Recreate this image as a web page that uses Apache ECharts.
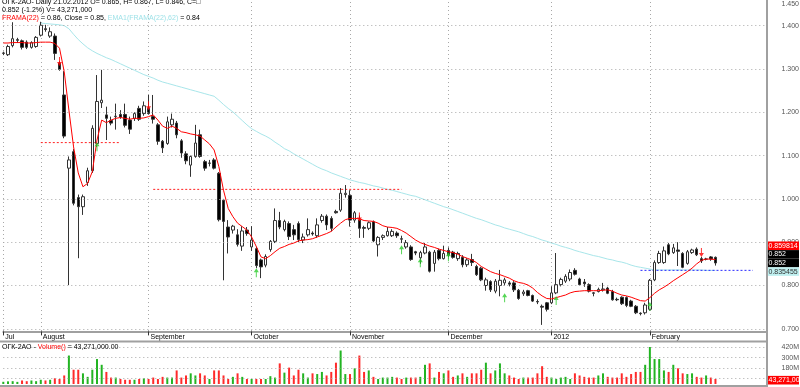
<!DOCTYPE html>
<html><head><meta charset="utf-8">
<script src="https://cdn.jsdelivr.net/npm/echarts@6/dist/echarts.min.js"></script>
<style>html,body{margin:0;padding:0;background:#fff}#c{width:800px;height:387px}</style>
</head><body><div id="c"></div>
<script>
// ---------- data ----------
const monthLabels = ['Jul','August','September','October','November','December','2012','February'];
const monthBarCounts = [8,23,22,21,21,22,21,15];
const padBars = 11;

const openP = [1.336,1.333,1.354,1.366,1.365,1.362,1.350,1.352,1.378,1.393,1.376,1.376,1.313,1.240,1.071,1.109,1.003,0.982,1.038,1.065,
1.128,1.222,1.194,1.181,1.190,1.195,1.195,1.182,1.186,1.209,1.197,1.209,1.190,1.171,1.133,1.128,1.171,1.175,1.134,1.104,
1.078,1.098,1.148,1.086,1.082,1.090,1.059,0.997,0.935,0.928,0.917,0.891,0.928,0.889,0.885,0.859,0.847,0.883,0.902,0.950,
0.929,0.943,0.929,0.943,0.905,0.917,0.921,0.915,0.950,0.960,0.955,0.971,0.974,1.010,1.008,0.951,0.951,0.934,0.932,0.947,
0.894,0.911,0.915,0.915,0.921,0.908,0.889,0.889,0.878,0.864,0.875,0.877,0.851,0.881,0.862,0.881,0.877,0.862,0.865,0.848,
0.860,0.844,0.840,0.800,0.809,0.787,0.800,0.806,0.806,0.806,0.789,0.781,0.788,0.777,0.763,0.752,0.760,0.760,0.783,0.802,
0.810,0.815,0.835,0.815,0.808,0.802,0.783,0.786,0.790,0.794,0.786,0.768,0.773,0.772,0.764,0.752,0.736,0.737,0.745,0.813,
0.853,0.853,0.894,0.876,0.882,0.874,0.851,0.876,0.884,0.862,0.861,0.866,0.865];
const closeP = [1.337,1.352,1.370,1.368,1.350,1.350,1.361,1.373,1.401,1.391,1.386,1.336,1.299,1.145,1.090,0.990,0.982,1.005,1.065,1.163,
1.225,1.228,1.186,1.175,1.191,1.189,1.170,1.161,1.197,1.184,1.215,1.197,1.184,1.133,1.118,1.178,1.184,1.148,1.106,1.088,
1.098,1.129,1.098,1.071,1.083,1.071,0.952,0.948,0.912,0.937,0.895,0.926,0.920,0.905,0.846,0.843,0.867,0.902,0.950,0.935,
0.948,0.913,0.917,0.906,0.912,0.929,0.919,0.940,0.960,0.940,0.932,0.968,1.013,1.013,0.951,0.968,0.932,0.932,0.945,0.903,
0.911,0.915,0.925,0.925,0.915,0.907,0.899,0.860,0.875,0.876,0.889,0.833,0.877,0.862,0.874,0.870,0.865,0.874,0.848,0.859,
0.853,0.825,0.813,0.813,0.790,0.810,0.812,0.813,0.803,0.790,0.770,0.785,0.777,0.764,0.762,0.750,0.745,0.783,0.802,0.814,
0.821,0.830,0.826,0.802,0.804,0.787,0.782,0.791,0.792,0.782,0.767,0.767,0.758,0.754,0.752,0.737,0.735,0.755,0.812,0.853,
0.874,0.880,0.873,0.887,0.879,0.842,0.878,0.882,0.871,0.857,0.861,0.861,0.852];
const highP = [1.340,1.356,1.408,1.372,1.368,1.366,1.364,1.376,1.409,1.402,1.396,1.382,1.318,1.295,1.098,1.115,1.010,1.010,1.072,1.170,
1.286,1.298,1.213,1.190,1.220,1.205,1.220,1.190,1.200,1.215,1.225,1.240,1.240,1.175,1.136,1.190,1.197,1.180,1.138,1.110,
1.100,1.171,1.160,1.090,1.090,1.094,1.062,1.000,0.951,0.940,0.930,0.937,0.935,0.937,0.890,0.862,0.872,0.905,0.978,0.970,
0.952,0.948,0.940,0.948,0.920,0.955,0.925,0.955,0.965,0.964,0.960,0.975,1.025,1.032,1.020,0.972,0.962,0.938,0.948,0.950,
0.914,0.918,0.935,0.930,0.925,0.915,0.905,0.893,0.880,0.880,0.898,0.880,0.882,0.885,0.892,0.888,0.880,0.878,0.870,0.863,
0.873,0.848,0.843,0.818,0.812,0.815,0.836,0.818,0.810,0.810,0.792,0.790,0.790,0.779,0.768,0.756,0.762,0.798,0.875,0.818,
0.826,0.837,0.840,0.818,0.815,0.805,0.785,0.795,0.806,0.797,0.790,0.772,0.775,0.775,0.767,0.755,0.738,0.760,0.815,0.858,
0.880,0.890,0.898,0.896,0.900,0.877,0.882,0.885,0.888,0.866,0.864,0.868,0.867];
const lowP = [1.332,1.330,1.350,1.360,1.345,1.346,1.347,1.349,1.375,1.386,1.372,1.321,1.296,1.140,0.801,0.985,0.863,0.963,1.030,1.060,
1.120,1.210,1.136,1.170,1.160,1.185,1.165,1.150,1.180,1.180,1.192,1.195,1.174,1.125,1.106,1.125,1.165,1.140,1.095,1.080,
1.051,1.095,1.095,1.065,1.075,1.068,0.948,0.812,0.874,0.920,0.890,0.880,0.915,0.880,0.840,0.817,0.842,0.878,0.898,0.930,
0.925,0.905,0.905,0.900,0.898,0.913,0.915,0.910,0.945,0.928,0.925,0.966,0.970,1.003,0.936,0.945,0.910,0.910,0.928,0.900,
0.867,0.905,0.913,0.912,0.910,0.898,0.885,0.857,0.870,0.850,0.872,0.830,0.832,0.858,0.860,0.865,0.862,0.857,0.842,0.843,
0.845,0.822,0.810,0.788,0.785,0.782,0.775,0.800,0.798,0.785,0.767,0.776,0.775,0.762,0.757,0.709,0.740,0.757,0.780,0.798,
0.806,0.810,0.823,0.800,0.797,0.784,0.775,0.784,0.786,0.780,0.765,0.764,0.755,0.750,0.750,0.734,0.731,0.733,0.742,0.810,
0.850,0.850,0.870,0.873,0.845,0.840,0.848,0.873,0.868,0.852,0.858,0.857,0.846];
const frama = [1.360,1.360,1.361,1.361,1.361,1.360,1.360,1.361,1.362,1.362,1.362,1.359,1.348,1.294,1.205,1.120,1.060,1.028,1.036,1.063,
1.136,1.182,1.176,1.182,1.186,1.188,1.186,1.184,1.186,1.186,1.187,1.190,1.194,1.182,1.168,1.163,1.168,1.163,1.155,1.153,
1.150,1.148,1.145,1.136,1.127,1.113,1.075,1.020,0.978,0.959,0.944,0.936,0.928,0.912,0.890,0.866,0.862,0.869,0.878,0.886,
0.890,0.895,0.898,0.903,0.905,0.906,0.908,0.912,0.916,0.920,0.925,0.935,0.944,0.952,0.955,0.955,0.954,0.950,0.949,0.948,
0.944,0.938,0.935,0.934,0.932,0.927,0.921,0.913,0.905,0.899,0.895,0.891,0.888,0.884,0.881,0.878,0.876,0.872,0.867,0.863,
0.859,0.853,0.844,0.838,0.832,0.828,0.825,0.821,0.817,0.811,0.807,0.805,0.801,0.794,0.784,0.776,0.770,0.769,0.772,0.775,
0.778,0.783,0.786,0.787,0.788,0.788,0.788,0.788,0.789,0.790,0.787,0.782,0.778,0.776,0.773,0.769,0.765,0.764,0.772,0.782,
0.790,0.796,0.803,0.811,0.818,0.825,0.832,0.840,0.850,0.858,0.861,0.861,0.860];
const ema = [null,null,null,null,null,null,null,null,1.406,1.405,1.404,1.403,1.402,1.400,1.393,1.380,1.368,1.358,1.349,1.342,
1.336,1.331,1.326,1.322,1.317,1.312,1.307,1.302,1.297,1.292,1.287,1.283,1.279,1.274,1.270,1.267,1.264,1.261,1.258,1.255,
1.252,1.249,1.246,1.243,1.240,1.237,1.228,1.218,1.209,1.201,1.191,1.181,1.171,1.162,1.156,1.150,1.145,1.139,1.131,1.124,
1.116,1.111,1.104,1.098,1.092,1.086,1.080,1.074,1.069,1.065,1.060,1.056,1.052,1.048,1.044,1.041,1.038,1.036,1.033,1.030,
1.028,1.025,1.022,1.020,1.017,1.014,1.011,1.008,1.006,1.002,0.998,0.994,0.990,0.986,0.982,0.979,0.975,0.971,0.967,0.963,
0.959,0.955,0.952,0.948,0.944,0.940,0.937,0.933,0.930,0.927,0.924,0.920,0.916,0.913,0.909,0.905,0.902,0.898,0.895,0.891,
0.888,0.885,0.881,0.878,0.875,0.872,0.869,0.867,0.864,0.861,0.859,0.856,0.854,0.851,0.847,0.844,0.842,0.840,0.838,0.836,
0.836,0.836,0.836,0.836,0.836,0.836,0.836,0.836,0.836,0.836,0.835,0.835,0.835];
const volumeM = [25,30,32,24,40,32,40,32,48,40,48,65,57,97,323,162,162,121,81,162,
283,218,137,73,73,57,48,48,48,57,65,57,73,57,81,73,73,154,73,97,
121,97,121,97,57,154,154,97,57,81,121,81,57,57,57,57,57,89,73,234,
129,186,97,162,121,73,121,113,137,97,137,242,380,113,113,178,323,137,154,81,
57,73,73,81,73,57,73,73,73,81,218,234,73,137,121,154,81,97,121,81,
121,121,162,242,121,154,234,121,97,73,57,73,73,73,121,202,81,73,57,73,
81,57,121,97,81,73,73,97,121,81,73,73,121,81,113,137,137,218,420,283,
283,154,137,218,178,121,113,121,81,73,97,73,57];

const priceTickLabels = [0.694,0.7,0.8,0.9,1.0,1.1,1.2,1.3,1.4,1.45];
const priceGridValues = [0.7,0.8,0.9,1.0,1.1,1.2,1.3,1.4];
const volTickLabelsM = [180,300,420];
const volGridValuesM = [60,180,300,420];
const sellSignals = [[12,1.307],[31,1.205],[76,0.948],[149,0.866]];
const buySignals = [[20,1.131],[54,0.840],[85,0.893],[89,0.863],[95,0.877],[107,0.782],[118,0.776],[138,0.762]];
const levels = [
  {from: 8, to: 25, price: 1.130, color: '#ff2020'},
  {from: 32, to: 85, price: 1.022, color: '#ff2020'},
  {from: 136, to: 160, price: 0.835, color: '#2828ff'}
];
const lastFrama = 0.859814, lastClose = 0.852, lastEma = 0.835455, lastVolume = 43271000;
const header1 = 'ОГК-2АО- Daily 21.02.2012 O= 0.865, H= 0.867, L= 0.846, C=\u25A1';
const header2 = '0.852 (-1.2%) V= 43,271,000';

// ---------- build ----------
const cats = [], monthStart = {};
monthLabels.forEach((m, mi) => {
  for (let k = 0; k < monthBarCounts[mi]; k++) {
    if (k === 0) monthStart[cats.length] = m;
    cats.push(m + ' ' + (k + 1));
  }
});
for (let k = 0; k < padBars; k++) cats.push('pad' + k);
const isMonth = (i) => monthStart[i] !== undefined;

const candleData = openP.map((o, i) => [o, closeP[i], lowP[i], highP[i]]);
const volData = volumeM.map((v, i) => ({
  value: v * 1e6,
  itemStyle: {color: closeP[i] >= openP[i] ? '#22b422' : '#ff2a2a'}
}));
const FONT = '"Liberation Sans", Arial, sans-serif';
const GREY = '#a0a0a0';
const downArrow = 'path://M2,0 L3,0 L3,5 L5,5 L2.5,9 L0,5 L2,5 Z';
const upArrow = 'path://M2.5,0 L5,4 L3,4 L3,9 L2,9 L2,4 L0,4 Z';

const levelSeries = levels.map(l => ({
  type: 'line', xAxisIndex: 0, yAxisIndex: 0, symbol: 'none', silent: true,
  data: [[l.from, l.price], [l.to, l.price]],
  lineStyle: {color: l.color, width: 1, type: [2, 2]}, z: 3
}));

const chart = echarts.init(document.getElementById('c'));
chart.setOption({
  animation: false,
  backgroundColor: '#ffffff',
  grid: [
    {left: 3.3, right: 33, top: 2, height: 329.4, containLabel: false, outerBoundsMode: 'none'},
    {left: 3.3, right: 33, top: 344, height: 40, containLabel: false, outerBoundsMode: 'none'}
  ],
  xAxis: [
    {type: 'category', gridIndex: 0, data: cats, boundaryGap: false,
     axisLine: {show: true, lineStyle: {color: GREY, width: 2}},
     axisTick: {show: true, interval: isMonth, length: 4, lineStyle: {color: '#333', width: 1}},
     axisLabel: {show: true, interval: isMonth, formatter: (v, i) => monthStart[i] || '',
       align: 'left', margin: 2, padding: [0, 0, 0, 2], fontSize: 7, fontFamily: FONT, color: '#000'},
     splitLine: {show: true, interval: isMonth, lineStyle: {color: '#a8a8a8', width: 1, type: [1, 3]}}},
    {type: 'category', gridIndex: 1, data: cats, boundaryGap: false,
     axisLine: {show: false}, axisTick: {show: false}, axisLabel: {show: false}, splitLine: {show: false}}
  ],
  yAxis: [
    {type: 'value', gridIndex: 0, position: 'right', min: 0.694, max: 1.4547, scale: true,
     axisLine: {show: false}, axisTick: {show: false}, splitLine: {show: false},
     axisLabel: {show: true, customValues: priceTickLabels, formatter: v => v.toFixed(3),
       align: 'right', margin: 32, fontSize: 7, fontFamily: FONT, color: '#555'}},
    {type: 'value', gridIndex: 1, position: 'right', min: 0, max: 454e6,
     axisLine: {show: false}, axisTick: {show: false}, splitLine: {show: false},
     axisLabel: {show: true, customValues: volTickLabelsM.map(v => v * 1e6), formatter: v => Math.round(v / 1e6) + 'M',
       align: 'right', margin: 32, fontSize: 7, fontFamily: FONT, color: '#555'}}
  ],
  series: [
    {type: 'line', name: 'EMA', xAxisIndex: 0, yAxisIndex: 0, data: ema, symbol: 'none', silent: true,
     lineStyle: {color: '#a8e6ea', width: 1}, z: 1,
     markLine: {silent: true, symbol: 'none', label: {show: false}, animation: false,
       lineStyle: {color: '#a8a8a8', width: 1, type: [1, 3]},
       data: priceGridValues.map(v => ({yAxis: v}))}},
    ...levelSeries,
    {type: 'candlestick', xAxisIndex: 0, yAxisIndex: 0, data: candleData, barWidth: 3, clip: false, z: 4,
     itemStyle: {color: '#ffffff', color0: '#000000', borderColor: '#333333', borderColor0: '#333333', borderWidth: 1}},
    {type: 'line', name: 'FRAMA', xAxisIndex: 0, yAxisIndex: 0, data: frama, symbol: 'none', silent: true,
     lineStyle: {color: '#ff0000', width: 1}, z: 5},
    {type: 'scatter', xAxisIndex: 0, yAxisIndex: 0, data: sellSignals, symbol: downArrow, symbolSize: [5, 9],
     symbolOffset: [0, -4.5], itemStyle: {color: '#ff0000'}, z: 6, silent: true},
    {type: 'scatter', xAxisIndex: 0, yAxisIndex: 0, data: buySignals, symbol: upArrow, symbolSize: [5, 9],
     symbolOffset: [0, 4.5], itemStyle: {color: '#2ccc2c'}, z: 6, silent: true},
    {type: 'bar', xAxisIndex: 1, yAxisIndex: 1, data: volData, barWidth: 2, clip: false, silent: true,
     markLine: {silent: true, symbol: 'none', label: {show: false}, animation: false,
       lineStyle: {color: '#a8a8a8', width: 1, type: [1, 3]},
       data: volGridValuesM.map(v => ({yAxis: v * 1e6}))}}
  ]
});

// ---------- texts & value boxes ----------
const py = v => chart.convertToPixel({yAxisIndex: 0}, v);
const vy = v => chart.convertToPixel({yAxisIndex: 1}, v);
const BOX_H = 8.6;
const closeY = py(lastClose);
const boxes = [
  {y: closeY - 2 * BOX_H, text: lastFrama.toFixed(6), bg: '#ff0000', fg: '#ffffff'},
  {y: closeY - BOX_H, text: lastClose.toFixed(3), bg: '#000000', fg: '#ffffff'},
  {y: closeY, text: lastClose.toFixed(3), bg: '#000000', fg: '#ffffff'},
  {y: Math.max(py(lastEma), closeY + BOX_H), text: lastEma.toFixed(6), bg: '#bff0f0', fg: '#333333'},
  {y: Math.min(vy(lastVolume), 387 - BOX_H / 2 - 1.5), text: '43,271,00', bg: '#ff0000', fg: '#ffffff'}
];
const txt = (x, y, style) => ({type: 'text', x, y, silent: true, z: 100,
  style: Object.assign({font: '7px ' + FONT, fill: '#000', verticalAlign: 'middle', align: 'left'}, style)});
const rich = (c) => ({fill: c, fontSize: 7, fontFamily: FONT});
const graphics = [
  {type: 'line', silent: true, z: 90, shape: {x1: 767, y1: 0, x2: 767, y2: 387}, style: {stroke: GREY, lineWidth: 2}},
  {type: 'line', silent: true, z: 90, shape: {x1: 0, y1: 341.5, x2: 767, y2: 341.5}, style: {stroke: GREY, lineWidth: 2}},
  {type: 'line', silent: true, z: 90, shape: {x1: 0, y1: 386, x2: 767, y2: 386}, style: {stroke: GREY, lineWidth: 2}},
  txt(2, 2, {text: header1}),
  txt(2, 10, {text: header2}),
  txt(2, 18, {text: '{r|FRAMA(22)}{k| = 0.86, Close = 0.85, }{c|EMA1(FRAMA(22),62)}{k| = 0.84}',
    rich: {r: rich('#ff0000'), k: rich('#000000'), c: rich('#9fe2e8')}}),
  txt(2, 347.5, {text: '{k|ОГК-2АО - }{r|Volume()}{k| = 43,271,000.00}',
    rich: {r: rich('#ff0000'), k: rich('#000000')}})
];
boxes.forEach(b => {
  graphics.push({type: 'rect', silent: true, z: 95, shape: {x: 768, y: b.y - BOX_H / 2, width: 31, height: BOX_H}, style: {fill: b.bg}});
  graphics.push(txt(768.5, b.y, {text: b.text, fill: b.fg}));
});
chart.setOption({graphic: graphics});
</script>
</body></html>
